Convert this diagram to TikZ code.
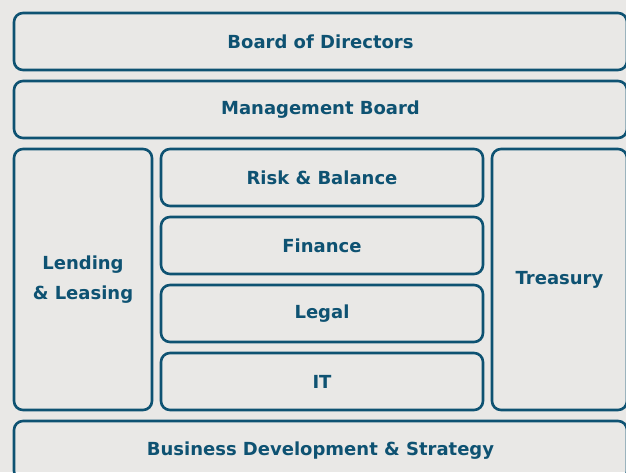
\documentclass[tikz,border=0pt]{standalone}
\usepackage{fontspec}
\setmainfont{DejaVu Sans}
\definecolor{orgline}{HTML}{0E5272}
\definecolor{orgbg}{HTML}{E9E8E6}
\tikzset{
  unitbox/.style={draw=orgline, line width=2.6pt, rounded corners=9pt,
    rectangle, inner sep=0pt, outer sep=0pt, align=center,
    text=orgline, font=\fontsize{18}{30}\selectfont\bfseries},
}
\begin{document}
\begin{tikzpicture}[x=1pt,y=1pt]
  % canvas
  \fill[orgbg] (0,0) rectangle (626,-472);
  \useasboundingbox (0,0) rectangle (626,-472);
  \begin{scope}
    \clip (0,0) rectangle (626,-472);
    % full-width rows
    \node[unitbox, minimum width=613pt, minimum height=57pt] (board) at (320.5,-41.5) {Board of Directors};
    \node[unitbox, minimum width=613pt, minimum height=57pt] (mgmt) at (320.5,-109.5) {Management Board};
    % side columns
    \node[unitbox, minimum width=138pt, minimum height=261pt] (lending) at (83,-279.5) {Lending\\\& Leasing};
    \node[unitbox, minimum width=135pt, minimum height=261pt] (treasury) at (559.5,-279.5) {Treasury};
    % central stack
    \node[unitbox, minimum width=322pt, minimum height=57pt] (risk) at (322,-177.5) {Risk \& Balance};
    \node[unitbox, minimum width=322pt, minimum height=57pt] (finance) at (322,-245.5) {Finance};
    \node[unitbox, minimum width=322pt, minimum height=57pt] (legal) at (322,-313.5) {Legal};
    \node[unitbox, minimum width=322pt, minimum height=57pt] (it) at (322,-381.5) {IT};
    % bottom row
    \node[unitbox, minimum width=613pt, minimum height=59pt] (bizdev) at (320.5,-450.5) {Business Development \& Strategy};
  \end{scope}
\end{tikzpicture}
\end{document}
